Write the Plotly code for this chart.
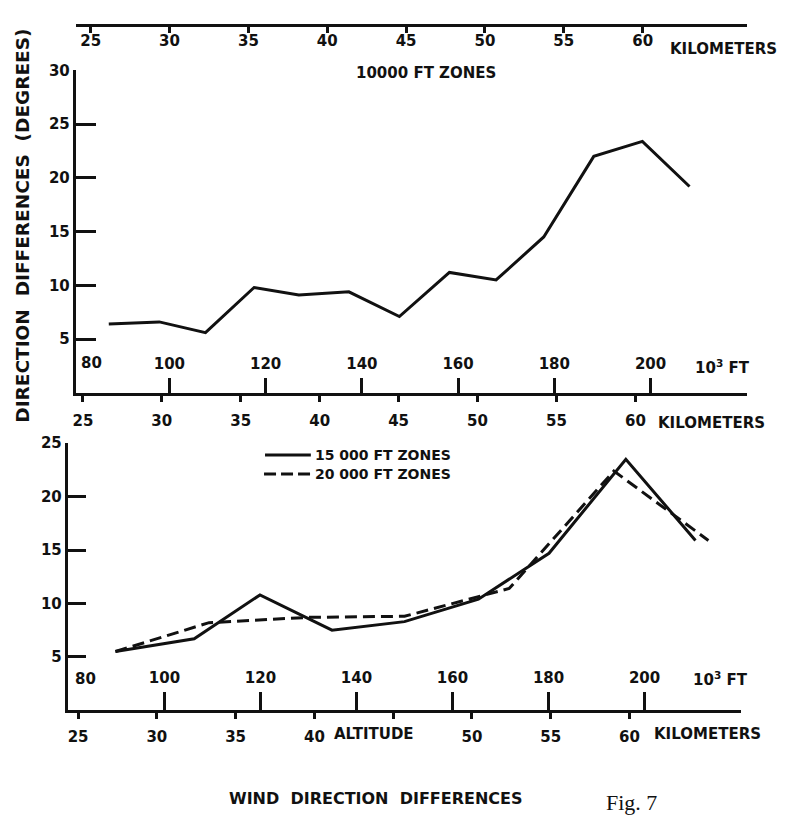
import plotly.graph_objects as go

# ---------------- data ----------------
# altitude in thousands of feet, direction differences in degrees
alt_10k = [87.4, 97.9, 107.5, 117.6, 126.9, 137.3, 147.8, 158.2, 167.9, 177.8, 188.2, 198.3, 208.1]
dir_10k = [6.4, 6.6, 5.6, 9.8, 9.1, 9.4, 7.1, 11.2, 10.5, 14.5, 22.0, 23.4, 19.2]

alt_15k = [89.8, 106.2, 119.9, 134.9, 150.0, 165.4, 180.1, 196.1, 210.6]
dir_15k = [5.5, 6.7, 10.8, 7.5, 8.3, 10.4, 14.7, 23.5, 15.9]

alt_20k = [89.8, 109.3, 130.0, 150.0, 171.8, 193.6, 213.3]
dir_20k = [5.5, 8.2, 8.7, 8.8, 11.4, 22.4, 15.9]

ft_ticks = [100, 120, 140, 160, 180, 200]
ft_labels = ["100", "120", "140", "160", "180", "200"]
km_ticks = [25, 30, 35, 40, 45, 50, 55, 60]
km_labels = ["25", "30", "35", "40", "45", "50", "55", "60"]
km_labels_bottom = ["25", "30", "35", "40", "", "50", "55", "60"]
top_y_ticks = [5, 10, 15, 20, 25, 30]
bot_y_ticks = [5, 10, 15, 20, 25]
legend_names = ["15 000 FT ZONES", "20 000 FT ZONES"]

KFT_PER_KM = 3.28084
km_in_kft = [k * KFT_PER_KM for k in km_ticks]

# ---------------- layout helpers ----------------
W, H = 786, 816
OFF = 8  # page body margin
def px(x):
    return (x - OFF) / W
def py(y):
    return 1 - (y - OFF) / H

INK = "#111111"
FONT = "DejaVu Sans"
tickfont = dict(family=FONT, size=15, color=INK, weight="bold")

fig = go.Figure()

fig.add_trace(go.Scatter(x=alt_10k, y=dir_10k, mode="lines", xaxis="x", yaxis="y",
                         line=dict(color=INK, width=3), showlegend=False, hoverinfo="skip"))
fig.add_trace(go.Scatter(x=alt_15k, y=dir_15k, mode="lines", xaxis="x3", yaxis="y3",
                         name=legend_names[0], showlegend=False,
                         line=dict(color=INK, width=3), hoverinfo="skip"))
fig.add_trace(go.Scatter(x=alt_20k, y=dir_20k, mode="lines", xaxis="x3", yaxis="y3",
                         name=legend_names[1], showlegend=False,
                         line=dict(color=INK, width=3, dash="12px,6px"), hoverinfo="skip"))
# invisible traces so the overlaying scale axes get drawn
for xa, ya in [("x2", "y"), ("x4", "y3"), ("x5", "y")]:
    fig.add_trace(go.Scatter(x=[None], y=[None], xaxis=xa, yaxis=ya, showlegend=False,
                             hoverinfo="skip", mode="lines"))

axis_common = dict(showgrid=False, zeroline=False, linecolor=INK, linewidth=3,
                   tickcolor=INK, tickwidth=2.5, tickfont=tickfont, fixedrange=True)

# top panel
x_range_top = [100 - (167 - 73) / 4.83, 100 + (747 - 167) / 4.83]
fig.update_layout(
    xaxis=dict(domain=[px(73), px(747)], range=x_range_top, anchor="y",
               showline=True, ticks="inside", ticklen=15,
               tickmode="array", tickvals=ft_ticks, ticktext=ft_labels,
               ticklabelposition="inside", ticklabelstandoff=6, **axis_common),
    xaxis2=dict(overlaying="x", anchor="y", side="bottom", range=x_range_top,
                showline=False, ticks="outside", ticklen=8,
                tickmode="array", tickvals=km_in_kft, ticktext=km_labels,
                ticklabelstandoff=6, **axis_common),
    yaxis=dict(domain=[py(388), py(62)], range=[0, 30], anchor="x",
               showline=True, ticks="inside", ticklen=20,
               tickmode="array", tickvals=top_y_ticks,
               ticktext=[str(v) for v in top_y_ticks], **axis_common),
    xaxis5=dict(overlaying="x", anchor="free", position=py(16), side="top",
                range=[25 + (73 - 88) / 15.83, 25 + (747 - 88) / 15.83],
                showline=True, ticks="inside", ticklen=6,
                tickmode="array", tickvals=km_ticks, ticktext=km_labels,
                ticklabelposition="inside", ticklabelstandoff=3, **axis_common),
)

# bottom panel
x_range_bot = [100 - (162 - 65) / 4.82, 100 + (741 - 162) / 4.82]
fig.update_layout(
    xaxis3=dict(domain=[px(65), px(741)], range=x_range_bot, anchor="y3",
                showline=True, ticks="inside", ticklen=18,
                tickmode="array", tickvals=ft_ticks, ticktext=ft_labels,
                ticklabelposition="inside", ticklabelstandoff=6, **axis_common),
    xaxis4=dict(overlaying="x3", anchor="y3", side="bottom", range=x_range_bot,
                showline=False, ticks="outside", ticklen=8,
                tickmode="array", tickvals=km_in_kft, ticktext=km_labels_bottom,
                ticklabelstandoff=5, **axis_common),
    yaxis3=dict(domain=[py(709), py(439)], range=[0, 25], anchor="x3",
                showline=True, ticks="inside", ticklen=18,
                tickmode="array", tickvals=bot_y_ticks,
                ticktext=[str(v) for v in bot_y_ticks], **axis_common),
)

def ann(text, x, y, size=15, angle=0, family=FONT, weight="bold", xanchor="center"):
    return dict(text=text, x=px(x), y=py(y), xref="paper", yref="paper",
                showarrow=False, textangle=angle, xanchor=xanchor, yanchor="middle",
                borderpad=0,
                font=dict(family=family, size=size, color=INK, weight=weight))

annotations = [
    ann("KILOMETERS", 723, 40),
    ann("10000 FT ZONES", 425, 65),
    ann("80", 89, 358),
    ann("10<sup>3</sup> FT", 722, 362),
    ann("KILOMETERS", 711, 419),
    ann("80", 83, 677),
    ann("10<sup>3</sup> FT", 720, 677),
    ann("ALTITUDE", 372, 733),
    ann("KILOMETERS", 707, 733),
    ann("DIRECTION  DIFFERENCES  (DEGREES)", 20, 219, size=18.5, angle=-90),
    ann("WIND  DIRECTION  DIFFERENCES", 374, 798, size=16),
    ann("Fig. 7", 631, 802, size=22, family="Liberation Serif", weight="normal"),
    ann(legend_names[0], 312, 451, size=14, xanchor="left"),
    ann(legend_names[1], 312, 470, size=14, xanchor="left"),
]

shapes = [
    dict(type="line", xref="paper", yref="paper", x0=px(263), x1=px(309),
         y0=py(451), y1=py(451), line=dict(color=INK, width=3)),
    dict(type="line", xref="paper", yref="paper", x0=px(262), x1=px(309),
         y0=py(470), y1=py(470), line=dict(color=INK, width=3, dash="12px,5px")),
]

fig.update_layout(
    width=W, height=H, autosize=False,
    margin=dict(l=0, r=0, t=0, b=0, pad=0),
    paper_bgcolor="white", plot_bgcolor="rgba(0,0,0,0)",
    annotations=annotations, shapes=shapes,
    showlegend=False,
)

fig.write_html("out.html")
